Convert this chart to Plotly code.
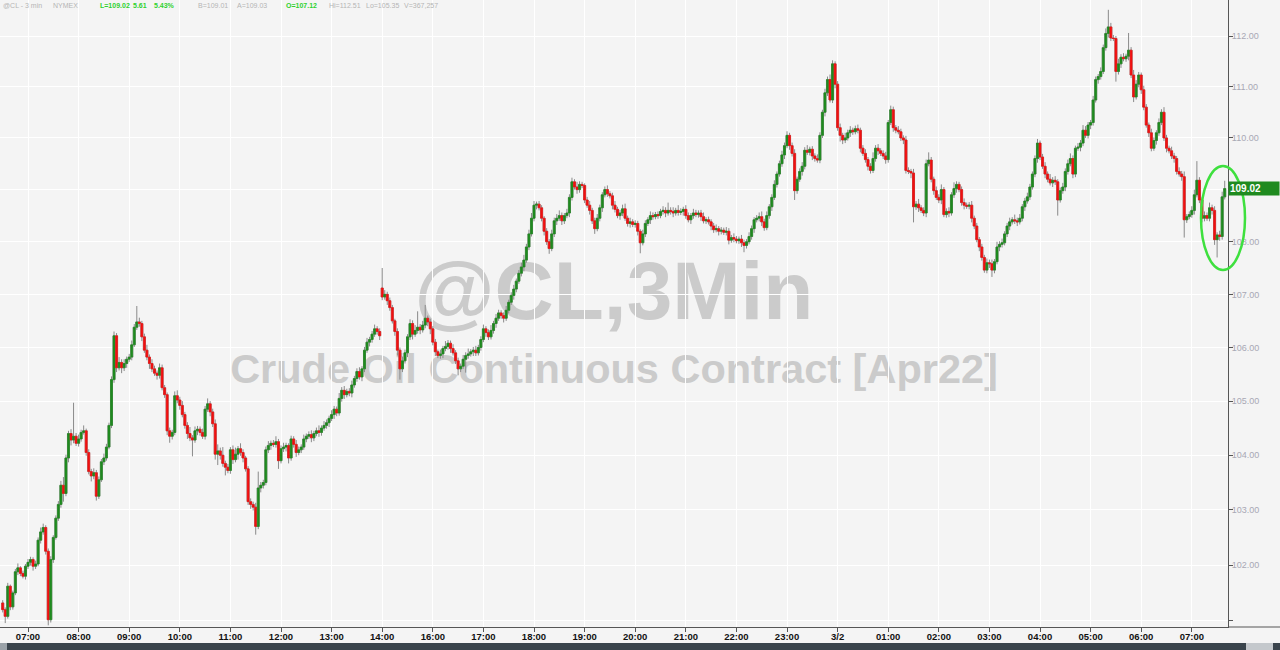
import math
import plotly.graph_objects as go

# ---------------- data (3-minute bars, @CL crude oil) ----------------
first_open = 101.32
session_open_bar = 150
session_open = 107.12

closes = [
    101.20, 101.08, 101.62, 101.25, 101.50, 101.88, 101.95, 101.85, 101.80, 101.98,
    102.05, 102.10, 101.98, 102.02, 102.45, 102.60, 102.68, 102.25, 101.02, 102.10,
    102.50, 102.85, 103.10, 103.45, 103.30, 103.95, 104.40, 104.28, 104.35, 104.22,
    104.30, 104.42, 104.45, 104.05, 103.70, 103.62, 103.68, 103.25, 103.55, 103.88,
    103.95, 104.15, 104.55, 105.40, 106.22, 105.62, 105.72, 105.62, 105.70, 105.78,
    105.82, 106.05, 106.38, 106.48, 106.45, 106.20, 105.95, 105.82, 105.70, 105.60,
    105.52, 105.48, 105.62, 105.25, 105.12, 104.45, 104.35, 104.42, 105.10, 105.02,
    104.92, 104.75, 104.55, 104.40, 104.32, 104.28, 104.45, 104.48, 104.42, 104.35,
    104.85, 104.95, 104.80, 104.58, 104.02, 104.08, 104.00, 103.85, 103.78, 103.72,
    104.10, 103.92, 104.02, 104.12, 104.05, 103.95, 103.75, 103.15, 103.10, 103.05,
    102.70, 103.40, 103.45, 103.50, 104.10, 104.18, 104.22, 104.20, 104.25, 103.90,
    104.12, 104.15, 104.18, 103.95, 104.30, 104.20, 104.05, 104.10, 104.15, 104.30,
    104.35, 104.38, 104.32, 104.40, 104.45, 104.42, 104.50, 104.55, 104.60, 104.68,
    104.75, 104.85, 104.78, 105.05, 105.20, 105.12, 105.18, 105.15, 105.30, 105.42,
    105.55, 105.45, 105.60, 105.95, 106.10, 106.15, 106.25, 106.35, 106.30, 106.22,
    106.95, 107.00, 106.88, 106.75, 106.50, 106.30, 105.95, 105.60, 105.75, 105.90,
    106.20, 106.45, 106.25, 106.32, 106.38, 106.33, 106.42, 106.55, 106.48, 106.35,
    106.10, 105.92, 105.85, 105.88, 105.98, 106.02, 106.08, 105.98, 105.90, 105.75,
    105.60, 105.65, 105.78, 105.85, 105.88, 105.92, 105.95, 105.90, 106.00, 106.15,
    106.35, 106.28, 106.20, 106.32, 106.45, 106.55, 106.65, 106.60, 106.55, 106.70,
    106.85, 106.98, 107.10, 107.25, 107.40, 107.52, 107.65, 107.90, 108.15, 108.45,
    108.70, 108.72, 108.65, 108.45, 108.20, 108.00, 107.87, 108.15, 108.40, 108.45,
    108.50, 108.40, 108.50, 108.55, 108.85, 109.15, 109.05, 109.00, 109.10, 109.08,
    108.80, 108.70, 108.60, 108.40, 108.25, 108.45, 108.65, 108.90, 109.00, 108.92,
    108.88, 108.70, 108.62, 108.50, 108.55, 108.63, 108.45, 108.35, 108.38, 108.33,
    108.35, 108.20, 107.98, 108.15, 108.35, 108.42, 108.50, 108.48, 108.52, 108.50,
    108.58, 108.60, 108.55, 108.60, 108.58, 108.55, 108.60, 108.56, 108.58, 108.62,
    108.50, 108.42, 108.50, 108.55, 108.52, 108.55, 108.48, 108.40, 108.42, 108.38,
    108.30, 108.23, 108.25, 108.20, 108.22, 108.18, 108.20, 108.03, 108.08, 108.05,
    108.02, 108.05, 107.98, 107.93, 108.00, 108.10, 108.25, 108.42, 108.45, 108.48,
    108.38, 108.27, 108.50, 108.67, 108.85, 109.10, 109.30, 109.50, 109.67, 109.85,
    110.05, 109.85, 109.70, 108.98, 109.20, 109.35, 109.45, 109.76, 109.72, 109.78,
    109.65, 109.60, 109.57, 110.05, 110.50, 110.88, 111.14, 110.74, 111.45, 111.05,
    110.20, 110.05, 109.96, 110.00, 110.10, 110.15, 110.12, 110.18, 110.15, 109.80,
    109.70, 109.58, 109.45, 109.37, 109.60, 109.80, 109.75, 109.70, 109.65, 109.58,
    110.30, 110.55, 110.20, 110.15, 110.12, 110.00, 109.96, 109.37, 109.35, 109.32,
    108.67, 108.72, 108.65, 108.60, 108.55, 109.50, 109.57, 109.20, 108.98, 108.85,
    108.80, 109.00, 108.52, 108.58, 108.55, 108.90, 109.02, 109.10, 109.00, 108.75,
    108.70, 108.68, 108.70, 108.45, 108.30, 108.04, 107.90, 107.70, 107.46, 107.60,
    107.58, 107.46, 107.62, 107.90, 107.95, 107.98, 108.15, 108.30, 108.38, 108.42,
    108.40, 108.38, 108.45, 108.67, 108.78, 108.86, 109.05, 109.30, 109.60, 109.90,
    109.63, 109.45, 109.30, 109.20, 109.13, 109.18, 109.15, 108.80, 108.98, 109.05,
    109.35, 109.50, 109.60, 109.30, 109.80, 109.82, 109.90, 110.15, 110.05, 110.25,
    110.30, 110.74, 111.14, 111.20, 111.30, 111.77, 112.05, 112.18, 111.96, 111.95,
    111.30, 111.45, 111.58, 111.55, 111.60, 111.72, 111.23, 110.80, 111.05, 111.23,
    110.94, 110.60, 110.25, 110.10, 109.80, 109.95, 110.10, 110.30, 110.50, 110.00,
    109.80, 109.75, 109.65, 109.60, 109.35, 109.30, 109.25, 108.42, 108.48, 108.52,
    108.60, 108.90, 109.18, 108.80, 108.45, 108.50, 108.45, 108.65, 108.60, 108.04,
    108.13, 108.10, 108.86, 109.02,
]

# wick lengths above / below the candle body, in cents
wick_hi = [
    5, 4, 6, 3, 4, 5, 8, 3, 5, 4,
    6, 5, 4, 6, 5, 8, 7, 4, 5, 6,
    4, 5, 6, 8, 15, 6, 5, 8, 62, 6,
    8, 5, 10, 4, 6, 5, 8, 5, 6, 5,
    8, 6, 5, 6, 8, 5, 10, 6, 8, 5,
    6, 8, 6, 30, 8, 5, 6, 10, 5, 8,
    6, 5, 8, 6, 5, 4, 6, 5, 8, 10,
    6, 8, 5, 6, 12, 5, 8, 6, 5, 7,
    6, 10, 5, 6, 8, 12, 6, 15, 5, 6,
    5, 8, 12, 5, 10, 6, 4, 5, 6, 5,
    8, 30, 6, 5, 6, 8, 5, 6, 10, 5,
    6, 8, 5, 4, 6, 5, 8, 6, 5, 8,
    5, 6, 8, 5, 6, 10, 5, 8, 6, 5,
    8, 6, 5, 10, 6, 8, 5, 6, 8, 5,
    6, 8, 5, 6, 8, 5, 6, 8, 5, 6,
    38, 8, 5, 6, 5, 4, 6, 5, 8, 6,
    5, 8, 6, 10, 30, 6, 8, 25, 5, 6,
    5, 6, 4, 8, 5, 10, 6, 5, 8, 5,
    6, 5, 8, 6, 10, 5, 6, 8, 5, 6,
    8, 5, 6, 10, 5, 8, 6, 5, 6, 8,
    5, 6, 8, 5, 6, 8, 10, 6, 8, 10,
    8, 5, 6, 5, 4, 6, 5, 8, 6, 8,
    10, 6, 5, 8, 6, 8, 5, 10, 6, 5,
    4, 6, 8, 5, 6, 8, 6, 5, 6, 8,
    5, 6, 8, 5, 6, 8, 10, 5, 8, 5,
    6, 5, 4, 8, 6, 5, 8, 6, 5, 6,
    5, 8, 6, 15, 6, 8, 5, 10, 6, 5,
    8, 6, 5, 8, 6, 5, 6, 8, 5, 6,
    5, 6, 8, 5, 6, 5, 8, 6, 5, 8,
    6, 5, 8, 6, 5, 8, 6, 5, 6, 8,
    10, 6, 8, 5, 6, 8, 5, 6, 8, 6,
    8, 5, 6, 8, 5, 6, 8, 6, 10, 5,
    6, 5, 8, 6, 5, 8, 6, 10, 7, 5,
    6, 8, 5, 10, 6, 8, 5, 6, 8, 5,
    6, 8, 5, 6, 12, 6, 8, 5, 6, 8,
    5, 8, 6, 5, 8, 6, 5, 8, 6, 5,
    8, 6, 10, 5, 6, 8, 15, 6, 5, 8,
    6, 10, 5, 6, 8, 5, 12, 6, 5, 6,
    8, 5, 6, 8, 5, 6, 5, 6, 5, 8,
    6, 8, 5, 10, 6, 8, 5, 6, 8, 5,
    10, 6, 8, 5, 6, 8, 6, 5, 6, 8,
    5, 6, 8, 5, 10, 6, 8, 5, 6, 8,
    6, 8, 10, 6, 5, 8, 6, 10, 8, 6,
    5, 8, 6, 5, 8, 6, 10, 34, 8, 6,
    5, 10, 6, 8, 5, 34, 6, 10, 8, 6,
    5, 8, 6, 5, 8, 6, 5, 8, 6, 10,
    6, 5, 8, 6, 5, 8, 6, 10, 5, 6,
    8, 10, 37, 6, 5, 8, 6, 10, 6, 8,
    5, 8, 10, 15,
]

wick_lo = [
    5, 12, 4, 6, 5, 4, 6, 5, 4, 6,
    5, 6, 8, 5, 4, 6, 5, 6, 10, 5,
    6, 4, 5, 6, 15, 5, 8, 10, 6, 5,
    6, 5, 4, 6, 5, 10, 6, 8, 5, 4,
    6, 5, 4, 5, 6, 8, 5, 10, 6, 8,
    5, 6, 4, 5, 6, 8, 5, 6, 10, 6,
    5, 8, 6, 5, 6, 8, 12, 6, 5, 6,
    8, 5, 6, 10, 6, 30, 5, 8, 6, 5,
    6, 5, 8, 6, 10, 20, 8, 6, 15, 5,
    6, 8, 5, 10, 6, 8, 5, 6, 8, 6,
    15, 5, 8, 6, 5, 6, 8, 5, 6, 15,
    5, 6, 8, 10, 5, 6, 8, 5, 6, 5,
    6, 5, 8, 6, 5, 8, 6, 5, 6, 8,
    5, 8, 6, 5, 6, 8, 5, 6, 8, 5,
    6, 5, 8, 6, 5, 8, 6, 5, 6, 8,
    6, 5, 8, 6, 5, 8, 10, 20, 6, 5,
    8, 6, 10, 5, 6, 8, 5, 6, 8, 10,
    6, 8, 5, 6, 8, 5, 6, 8, 5, 6,
    12, 6, 5, 25, 6, 5, 8, 6, 5, 6,
    5, 8, 6, 5, 6, 8, 5, 6, 8, 5,
    6, 5, 8, 6, 5, 6, 8, 5, 6, 5,
    6, 8, 5, 6, 8, 6, 10, 5, 6, 8,
    5, 8, 6, 5, 8, 6, 5, 8, 6, 5,
    6, 5, 8, 6, 10, 5, 6, 8, 5, 6,
    5, 8, 6, 5, 8, 6, 5, 6, 8, 5,
    6, 8, 20, 5, 6, 5, 8, 6, 5, 6,
    5, 6, 8, 5, 6, 8, 5, 6, 5, 8,
    6, 5, 8, 6, 5, 6, 8, 5, 6, 5,
    8, 6, 5, 8, 6, 5, 6, 8, 5, 6,
    5, 6, 8, 13, 6, 5, 6, 8, 5, 6,
    8, 6, 5, 6, 8, 5, 6, 5, 6, 8,
    5, 8, 6, 18, 6, 5, 8, 6, 5, 6,
    8, 6, 5, 6, 5, 8, 6, 5, 6, 8,
    6, 12, 8, 6, 5, 8, 6, 5, 6, 8,
    5, 6, 8, 6, 5, 6, 8, 5, 6, 8,
    6, 5, 8, 6, 5, 6, 8, 6, 5, 10,
    30, 6, 8, 5, 6, 8, 5, 6, 8, 5,
    6, 8, 5, 6, 8, 5, 6, 8, 5, 6,
    8, 5, 6, 8, 6, 5, 8, 6, 5, 6,
    8, 13, 6, 5, 8, 6, 5, 6, 8, 5,
    6, 8, 5, 6, 8, 5, 6, 5, 6, 8,
    6, 5, 8, 6, 5, 8, 6, 30, 5, 6,
    8, 6, 5, 8, 6, 5, 8, 6, 5, 6,
    8, 6, 5, 8, 6, 5, 6, 8, 6, 5,
    20, 6, 8, 5, 6, 8, 6, 10, 5, 6,
    8, 6, 5, 8, 6, 5, 8, 6, 5, 6,
    8, 5, 6, 8, 6, 5, 8, 34, 6, 5,
    6, 8, 5, 6, 8, 6, 5, 6, 8, 10,
    34, 8, 6, 5,
]

tick_bars = [10, 30, 50, 70, 90, 110, 130, 150, 170, 190, 210, 230, 250,
             270, 290, 310, 330, 350, 370, 390, 410, 430, 450, 470]
tick_labels = ["07:00", "08:00", "09:00", "10:00", "11:00", "12:00", "13:00",
               "14:00", "16:00", "17:00", "18:00", "19:00", "20:00", "21:00",
               "22:00", "23:00", "3/2", "01:00", "02:00", "03:00", "04:00",
               "05:00", "06:00", "07:00"]
price_ticks = [101, 102, 103, 104, 105, 106, 107, 108, 109, 110, 111, 112]
# price levels whose scale label is not shown (hidden at the edge / under the last-price tag)
price_ticks_unlabeled = [101, 109]

header_texts = ["@CL - 3 min", "NYMEX", "L=109.02", "5.61", "5.43%", "B=109.01",
                "A=109.03", "O=107.12", "Hi=112.51", "Lo=105.35", "V=367,257"]
header_green = [False, False, True, True, True, False, False, True, False, False, False]
header_px = [2, 52, 99, 132, 153, 197, 236, 285, 328, 365, 403]

# ---------------- derived OHLC ----------------
n = min(len(closes), len(wick_hi), len(wick_lo))
closes = closes[:n]
bars = list(range(n))
opens = [first_open] + closes[:-1]
opens[session_open_bar] = session_open
body_top = [max(o, c) for o, c in zip(opens, closes)]
body_bot = [min(o, c) for o, c in zip(opens, closes)]
highs = [t + w / 100 for t, w in zip(body_top, wick_hi[:n])]
lows = [b - w / 100 for b, w in zip(body_bot, wick_lo[:n])]

# ---------------- style ----------------
BG = "#f4f4f4"
GREEN = "#1f8a1f"
RED = "#f01010"
WICK = "#8a8a8a"
FONT = "Arial, Liberation Sans, sans-serif"
PLOT_W, PLOT_H = 1228, 627

fig = go.Figure()
# wicks (gray)
fig.add_trace(go.Candlestick(
    x=bars, open=opens, high=highs, low=lows, close=closes,
    increasing=dict(line=dict(color=WICK, width=1), fillcolor="rgba(0,0,0,0)"),
    decreasing=dict(line=dict(color=WICK, width=1), fillcolor="rgba(0,0,0,0)"),
    whiskerwidth=0, hoverinfo="skip", showlegend=False))
# bodies (colored)
fig.add_trace(go.Candlestick(
    x=bars, open=opens, high=body_top, low=body_bot, close=closes,
    increasing=dict(line=dict(color=GREEN, width=0.6), fillcolor=GREEN),
    decreasing=dict(line=dict(color=RED, width=0.6), fillcolor=RED),
    whiskerwidth=0, hoverinfo="skip", showlegend=False))

y_lo, y_hi = 100.89, 112.715

fig.update_layout(
    width=1280, height=650,
    margin=dict(l=0, r=1280 - PLOT_W, t=0, b=650 - PLOT_H),
    paper_bgcolor=BG, plot_bgcolor=BG,
    showlegend=False, boxgap=0.2, boxgroupgap=0.0,
    hovermode=False,
)
fig.update_xaxes(
    range=[-1.07, 484.3], tickmode="array", tickvals=tick_bars, ticktext=tick_labels,
    showgrid=True, gridcolor="#ffffff", gridwidth=1, zeroline=False,
    ticks="outside", ticklen=4, tickcolor="#555555", ticklabelstandoff=-3,
    showline=True, linecolor="#555555", linewidth=1,
    tickfont=dict(family=FONT, size=9.5, color="#111111", weight="bold"),
    rangeslider=dict(visible=False), fixedrange=True,
)
fig.update_yaxes(
    type="log", range=[math.log10(y_lo), math.log10(y_hi)], side="right",
    tickmode="array", tickvals=price_ticks,
    ticktext=["" if v in price_ticks_unlabeled else f"{v:.2f}" for v in price_ticks],
    showgrid=True, gridcolor="#ffffff", gridwidth=1, zeroline=False,
    ticks="outside", ticklen=4, tickcolor="#555555", ticklabelstandoff=-3,
    showline=True, linecolor="#555555", linewidth=1,
    tickfont=dict(family=FONT, size=9, color="#a8a8b4"), fixedrange=True,
)

# watermark (drawn below the candles)
fig.add_shape(type="rect", xref="paper", yref="paper",
              x0=0.2, x1=0.8, y0=0.489, y1=0.609, layer="below",
              line=dict(width=0), fillcolor="rgba(0,0,0,0)",
              label=dict(text="<b>@CL,3Min</b>", textposition="middle center",
                         font=dict(family=FONT, size=82, color="#cbcbcb")))
fig.add_shape(type="rect", xref="paper", yref="paper",
              x0=0.1, x1=0.9, y0=0.3796, y1=0.4546, layer="below",
              line=dict(width=0), fillcolor="rgba(0,0,0,0)",
              label=dict(text="<b>Crude Oil Continuous Contract [Apr22]</b>",
                         textposition="middle center",
                         font=dict(family=FONT, size=41.5, color="#cbcbcb")))

# highlight ellipse around the last bars
fig.add_shape(type="circle", xref="paper", yref="paper",
              x0=1201 / PLOT_W, x1=1245 / PLOT_W,
              y0=(PLOT_H - 270) / PLOT_H, y1=(PLOT_H - 166) / PLOT_H,
              line=dict(color="#3ee03e", width=2.5), layer="above")

# x-axis line continues under the price scale
fig.add_shape(type="line", xref="paper", yref="paper", x0=1, x1=1280 / PLOT_W,
              y0=0, y1=0, line=dict(color="#555555", width=1))
# bottom scroll bar
fig.add_shape(type="rect", xref="paper", yref="paper", x0=0, x1=1280 / PLOT_W,
              y0=-(650 - PLOT_H) / PLOT_H, y1=-(643 - PLOT_H) / PLOT_H,
              line=dict(width=0), fillcolor="#3a444c")
fig.add_shape(type="rect", xref="paper", yref="paper", x0=0, x1=7 / PLOT_W,
              y0=-(650 - PLOT_H) / PLOT_H, y1=-(643 - PLOT_H) / PLOT_H,
              line=dict(width=0), fillcolor="#9aa2a8")
fig.add_shape(type="rect", xref="paper", yref="paper", x0=1246 / PLOT_W, x1=1273 / PLOT_W,
              y0=-(650 - PLOT_H) / PLOT_H, y1=-(643 - PLOT_H) / PLOT_H,
              line=dict(width=0), fillcolor="#c4c8cc")

# last price tag
last = closes[-1]
fig.add_annotation(xref="paper", yref="y", x=1.0, y=math.log10(last),
                   xanchor="left", yanchor="middle", showarrow=False,
                   text=f"<b>{last:.2f}</b>", align="left", width=48, height=11,
                   bgcolor=GREEN, borderpad=1,
                   font=dict(family=FONT, size=10, color="#ffffff"))

# header line
for txt, green, px in zip(header_texts, header_green, header_px):
    fig.add_annotation(xref="paper", yref="paper", x=px / PLOT_W, y=(PLOT_H - 5) / PLOT_H,
                       xanchor="left", yanchor="middle", showarrow=False,
                       text=f"<b>{txt}</b>" if green else txt, borderpad=0,
                       font=dict(family=FONT, size=7,
                                 color="#2fd12f" if green else "#b4b4b4"))

fig.write_html("out.html", config={"displayModeBar": False},
               post_script="document.body.style.margin='0';document.body.style.overflow='hidden';")
